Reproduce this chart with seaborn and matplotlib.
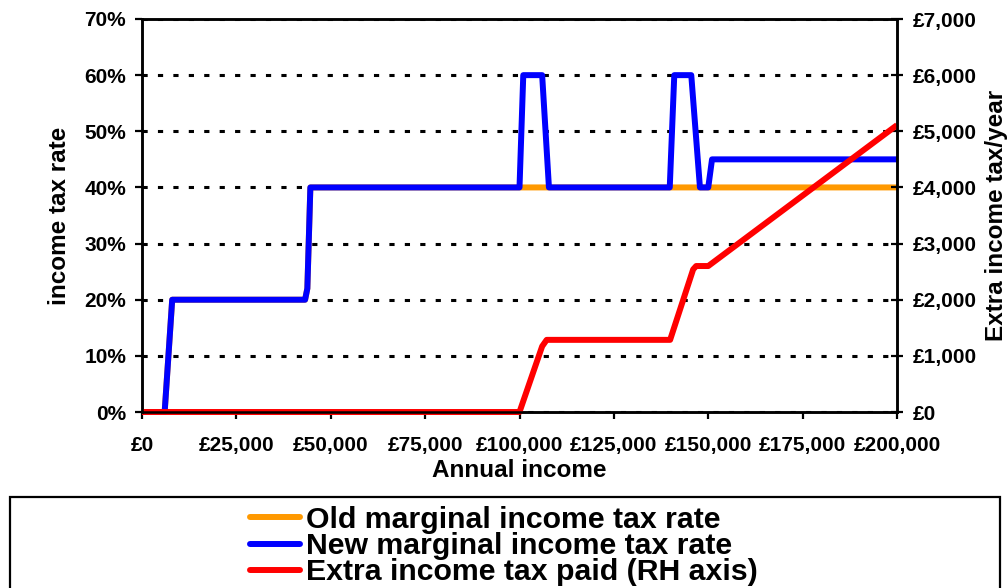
import matplotlib
matplotlib.use("Agg")
import matplotlib.pyplot as plt
import seaborn as sns
from matplotlib.ticker import FuncFormatter
from matplotlib.patches import Rectangle
from matplotlib.lines import Line2D

# ---- data ----
income_old = [0, 6000, 8000, 43200, 43800, 44600, 200000]
rate_old = [0, 0, 20, 20, 22, 40, 40]

income_new = [0, 6000, 8000, 43200, 43800, 44600, 100000, 101000, 106000,
              107800, 139800, 141000, 145500, 147800, 150000, 151000, 200000]
rate_new = [0, 0, 20, 20, 22, 40, 40, 60, 60, 40, 40, 60, 60, 40, 40, 45, 45]

income_extra = [0, 100000, 106000, 107200, 139900, 146000, 146800, 150000, 200000]
extra_tax = [0, 0, 1170, 1285, 1285, 2540, 2600, 2600, 5110]

series_labels = ["Old marginal income tax rate",
                 "New marginal income tax rate",
                 "Extra income tax paid (RH axis)"]
series_colors = ["#FF9900", "#0000FF", "#FF0000"]

x_ticks = [0, 25000, 50000, 75000, 100000, 125000, 150000, 175000, 200000]
left_ticks = [0, 10, 20, 30, 40, 50, 60, 70]
right_ticks = [0, 1000, 2000, 3000, 4000, 5000, 6000, 7000]

x_label = "Annual income"
left_label = "income tax rate"
right_label = "Extra income tax/year"

# ---- style ----
sns.set_style("white")
plt.rcParams["font.family"] = ["Liberation Sans", "DejaVu Sans"]
plt.rcParams["font.weight"] = "bold"
plt.rcParams["axes.labelweight"] = "bold"
plt.rcParams["text.color"] = "black"
plt.rcParams["axes.labelcolor"] = "black"
plt.rcParams["xtick.color"] = "black"
plt.rcParams["ytick.color"] = "black"
plt.rcParams["legend.labelcolor"] = "black"

fig = plt.figure(figsize=(10.08, 5.88), dpi=100)
ax = fig.add_axes([142 / 1008, 176 / 588, 755 / 1008, 393 / 588])

LW = 4.3
sns.lineplot(x=income_old, y=rate_old, ax=ax, color=series_colors[0], lw=LW,
             legend=False, solid_joinstyle="round", solid_capstyle="butt")
sns.lineplot(x=income_new, y=rate_new, ax=ax, color=series_colors[1], lw=LW,
             legend=False, solid_joinstyle="round", solid_capstyle="butt")
for ln in ax.lines:
    ln.set_clip_on(False)

ax.set_xlim(0, 200000)
ax.set_ylim(0, 70)
ax.set_xticks(x_ticks)
ax.set_yticks(left_ticks)
ax.xaxis.set_major_formatter(FuncFormatter(lambda v, p: f"£{int(v):,}"))
ax.yaxis.set_major_formatter(FuncFormatter(lambda v, p: f"{int(v)}%"))
ax.yaxis.grid(True, color="black", lw=2.2, linestyle=(0, (1.7, 3.35)))
ax.xaxis.grid(False)
ax.set_axisbelow(True)

ax2 = ax.twinx()
sns.lineplot(x=income_extra, y=extra_tax, ax=ax2, color=series_colors[2], lw=LW,
             legend=False, solid_joinstyle="round", solid_capstyle="butt")
for ln in ax2.lines:
    ln.set_clip_on(False)
ax2.set_ylim(0, 7000)
ax2.set_yticks(right_ticks)
ax2.yaxis.set_major_formatter(FuncFormatter(lambda v, p: f"£{int(v):,}"))
ax2.grid(False)

for a in (ax, ax2):
    for s in a.spines.values():
        s.set_visible(True)
        s.set_color("black")
        s.set_linewidth(1.8)

ax.tick_params(axis="y", direction="out", length=5, width=1.6, pad=6.5,
               labelsize=15, colors="black", left=True)
ax.tick_params(axis="x", direction="out", length=5, width=1.6, pad=12,
               labelsize=15, colors="black", bottom=True)
ax2.tick_params(axis="y", direction="inout", length=8.6, width=1.6, pad=7,
                labelsize=15, colors="black", right=True)

ax.set_xlabel(x_label, fontsize=17.5, fontweight="bold", labelpad=3, color="black")
ax.set_ylabel(left_label, fontsize=17.5, fontweight="bold", color="black")
ax.yaxis.set_label_coords(-0.094, 0.5)
ax2.set_ylabel(right_label, fontsize=17.5, fontweight="bold", color="black")
ax2.yaxis.set_label_coords(1.116, 0.5)

# ---- legend ----
handles = [Line2D([], [], color=c, lw=LW, solid_capstyle="round") for c in series_colors]
leg = fig.legend(handles, series_labels, loc="upper center",
                 bbox_to_anchor=(0.5, 1 - 506 / 588), frameon=False,
                 prop={"size": 21.8, "weight": "bold"},
                 handlelength=1.65, handletextpad=0.22, labelspacing=-0.06,
                 borderpad=0, borderaxespad=0)
for t in leg.get_texts():
    t.set_color("black")
fig.add_artist(Rectangle((10 / 1008, -0.05), 990 / 1008, (1 - 497 / 588) + 0.05,
                         transform=fig.transFigure, fill=False,
                         edgecolor="black", lw=1.6))

fig.savefig("out.png", dpi=100)
